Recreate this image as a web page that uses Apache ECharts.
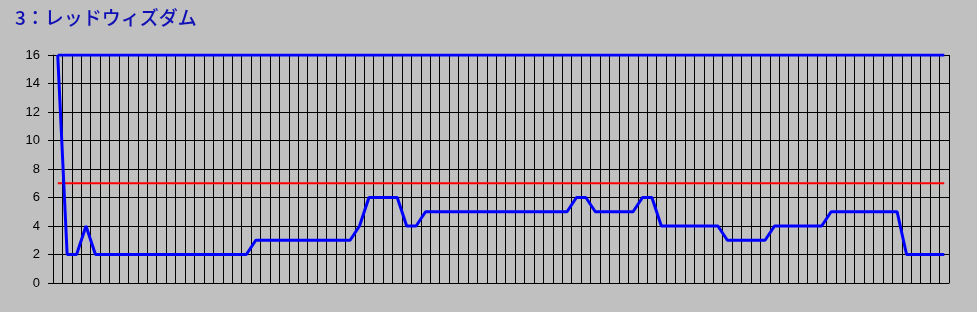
<!DOCTYPE html>
<html>
<head>
<meta charset="utf-8">
<script src="https://cdn.jsdelivr.net/npm/echarts@6/dist/echarts.min.js"></script>
<style>
html,body{margin:0;padding:0;background:#C0C0C0;}
#chart{width:977px;height:312px;}
</style>
</head>
<body>
<div id="chart"></div>
<script>
var titleText = '3：レッドウィズダム';
var categories = [];
for (var c = 1; c <= 95; c++) { categories.push(String(c)); }
var mainValues = [
  16, 2, 2, 4,
  2, 2, 2, 2, 2, 2, 2, 2, 2, 2, 2, 2, 2, 2, 2, 2, 2,
  3, 3, 3, 3, 3, 3, 3, 3, 3, 3, 3,
  4,
  6, 6, 6, 6,
  4, 4,
  5, 5, 5, 5, 5, 5, 5, 5, 5, 5, 5, 5, 5, 5, 5, 5,
  6, 6,
  5, 5, 5, 5, 5,
  6, 6,
  4, 4, 4, 4, 4, 4, 4,
  3, 3, 3, 3, 3,
  4, 4, 4, 4, 4, 4,
  5, 5, 5, 5, 5, 5, 5, 5,
  2, 2, 2, 2, 2
];
var upperValues = [
  16,16,16,16,16,16,16,16,16,16,16,16,16,16,16,16,16,16,16,16,
  16,16,16,16,16,16,16,16,16,16,16,16,16,16,16,16,16,16,16,16,
  16,16,16,16,16,16,16,16,16,16,16,16,16,16,16,16,16,16,16,16,
  16,16,16,16,16,16,16,16,16,16,16,16,16,16,16,16,16,16,16,16,
  16,16,16,16,16,16,16,16,16,16,16,16,16,16,16
];
var thresholdValues = [
  7,7,7,7,7,7,7,7,7,7,7,7,7,7,7,7,7,7,7,7,
  7,7,7,7,7,7,7,7,7,7,7,7,7,7,7,7,7,7,7,7,
  7,7,7,7,7,7,7,7,7,7,7,7,7,7,7,7,7,7,7,7,
  7,7,7,7,7,7,7,7,7,7,7,7,7,7,7,7,7,7,7,7,
  7,7,7,7,7,7,7,7,7,7,7,7,7,7,7
];
var yMin = 0, yMax = 16, yInterval = 2;

var chart = echarts.init(document.getElementById('chart'), null, {renderer: 'canvas'});
chart.setOption({
  animation: false,
  backgroundColor: '#C0C0C0',
  title: {
    text: titleText,
    left: 10,
    top: 3,
    textStyle: {
      fontFamily: '"Noto Sans CJK JP", sans-serif',
      fontSize: 19,
      fontWeight: 500,
      color: '#1010B4'
    }
  },
  grid: {left: 53, top: 55, width: 896, height: 228, containLabel: false},
  xAxis: {
    type: 'category',
    data: categories,
    boundaryGap: true,
    axisLine: {show: true, lineStyle: {color: '#000', width: 1}},
    axisTick: {show: false},
    axisLabel: {show: false},
    splitLine: {show: true, interval: 0, lineStyle: {color: '#000', width: 1}}
  },
  yAxis: {
    type: 'value',
    min: yMin,
    max: yMax,
    interval: yInterval,
    axisLine: {show: true, lineStyle: {color: '#000', width: 1}},
    axisTick: {show: true, length: 5, lineStyle: {color: '#000', width: 1}},
    axisLabel: {
      margin: 13,
      color: '#000',
      fontSize: 13,
      fontFamily: '"Liberation Sans", Arial, sans-serif'
    },
    splitLine: {show: true, lineStyle: {color: '#000', width: 1}}
  },
  series: [
    {
      type: 'line',
      data: thresholdValues,
      showSymbol: false,
      symbol: 'none',
      lineStyle: {color: '#FF0000', width: 2},
      silent: true
    },
    {
      type: 'line',
      data: upperValues,
      showSymbol: false,
      symbol: 'none',
      lineStyle: {color: '#0000FF', width: 3},
      silent: true
    },
    {
      type: 'line',
      data: mainValues,
      showSymbol: false,
      symbol: 'none',
      lineStyle: {color: '#0000FF', width: 3},
      silent: true
    }
  ]
});
</script>
</body>
</html>
